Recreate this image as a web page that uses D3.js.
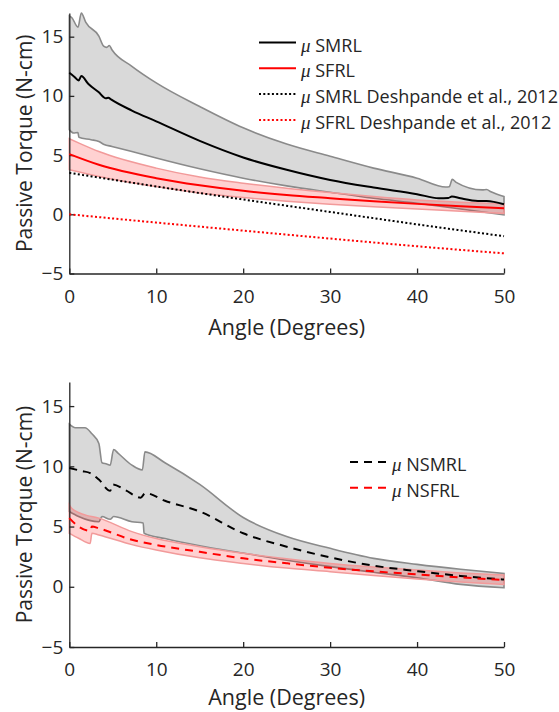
<!DOCTYPE html>
<html lang="en">
  <head>
    <meta charset="utf-8">
    <title>Passive torque</title>
    <script src="https://cdn.jsdelivr.net/npm/d3@7/dist/d3.min.js"></script>
    <style>
      body { margin: 0; background: #fff; }
      text { font-family: "Open Sans", sans-serif; fill: #262626; }
      .axis path, .axis line { stroke: #262626; stroke-width: 1.3; }
      .axis text { font-size: 19px; font-family: "Open Sans", sans-serif; fill: #262626; }
    </style>
  </head>
  <body>
    <div id="chart"></div>
  </body>
</html>

<script>

// [angle, torque]
const smrlMean = [[0,11.95],[0.6,11.6],[1.07,11.3],[1.38,11.67],[2.2,11.0],[3.4,10.3],[4.2,9.8],[4.5,9.85],[4.8,9.7],[7.2,8.76],[10,7.85],[15,6.2],[20,4.8],[25,3.76],[30,2.9],[35,2.26],[40,1.7],[42.5,1.36],[43.6,1.38],[44,1.5],[45,1.35],[47,1.13],[48,1.12],[50,0.85]];
const smrlUpper = [[0,16.75],[0.3,16.6],[1.0,15.8],[1.38,17.0],[1.9,16.2],[3.4,15.05],[3.95,14.2],[4.3,14.1],[4.6,14.25],[4.9,13.9],[7.2,12.5],[10,11.1],[15,9.1],[20,7.3],[25,5.93],[30,4.9],[35,3.9],[40,3.05],[43.3,2.3],[43.7,2.32],[44.05,2.95],[44.5,2.7],[47.5,2.06],[48,2.1],[48.5,1.9],[50,1.5]];
const smrlLower = [[0,7.15],[0.5,6.86],[1.0,6.9],[1.1,6.5],[2.5,6.3],[3.4,6.15],[4.0,5.9],[4.9,5.73],[7.2,5.3],[10,4.75],[15,3.84],[20,3.05],[25,2.4],[30,1.86],[35,1.35],[40,0.93],[45,0.45],[50,-0.05]];

const sfrlMean = [[0,5.08],[3.4,4.18],[10,3.05],[15,2.45],[20,1.98],[25,1.63],[30,1.36],[35,1.1],[40,0.88],[45,0.68],[50,0.5]];
const sfrlUpper = [[0,6.38],[1,6.05],[3.4,5.3],[10,3.9],[15,3.15],[20,2.63],[25,2.2],[30,1.84],[35,1.5],[40,1.21],[45,1.02],[50,0.88]];
const sfrlLower = [[0,3.76],[3.4,3.2],[10,2.34],[15,1.8],[20,1.41],[25,1.1],[30,0.85],[35,0.63],[40,0.45],[45,0.25],[50,0.08]];

const smrlDeshpande = [[0,3.5],[10,2.35],[20,1.25],[30,0.2],[40,-0.85],[50,-1.85]];
const sfrlDeshpande = [[0,0],[10,-0.7],[20,-1.38],[30,-2.05],[40,-2.7],[50,-3.3]];

const nsmrlMean = [[0,9.86],[1.5,9.6],[2.4,9.44],[3.4,8.9],[4.7,7.97],[5.0,8.5],[6.5,8.0],[8.2,7.4],[8.75,7.78],[11,7.14],[15,6.25],[20,4.44],[25,3.33],[30,2.44],[35,1.75],[40,1.3],[45,0.9],[50,0.6]];
const nsmrlUpper = [[0,13.5],[0.7,13.2],[1.8,13.2],[2.6,12.7],[3.4,11.9],[3.76,10.3],[4.3,10.2],[4.7,10.1],[5.1,11.4],[5.6,11.1],[7.2,10.1],[8.4,9.7],[8.7,11.2],[11,10.3],[15,8.5],[20,5.75],[25,4.17],[30,3.19],[35,2.36],[40,1.86],[45,1.45],[50,1.1]];
const nsmrlLower = [[0,6.25],[1.07,5.83],[3.4,5.4],[3.76,5.83],[4.7,5.6],[5.1,5.83],[7.2,5.4],[8.5,5.3],[8.6,4.44],[11,4.0],[15,3.4],[20,2.8],[25,2.2],[30,1.67],[35,1.2],[40,0.75],[45,0.2],[50,-0.08]];

const nsfrlMean = [[0,5.7],[1.07,5.0],[2.4,4.64],[2.6,5.0],[3.4,4.85],[7.2,3.9],[10,3.47],[15,2.9],[20,2.36],[25,1.95],[30,1.58],[35,1.28],[40,1.03],[45,0.78],[50,0.56]];
const nsfrlUpper = [[0,6.8],[0.3,6.5],[1.8,5.97],[3.4,5.7],[7.2,4.58],[10,4.0],[15,3.33],[20,2.78],[25,2.33],[30,1.94],[35,1.64],[40,1.39],[45,1.15],[50,0.97]];
const nsfrlLower = [[0,4.44],[1.07,4.03],[2.4,3.6],[2.6,4.44],[3.4,4.3],[7.2,3.5],[10,3.05],[15,2.4],[20,1.94],[25,1.55],[30,1.25],[35,0.93],[40,0.64],[45,0.4],[50,0.19]];

const xTicks = [0, 10, 20, 30, 40, 50];
const yTicks = [-5, 0, 5, 10, 15];
const topLegend = ["SMRL", "SFRL", "SMRL Deshpande et al., 2012", "SFRL Deshpande et al., 2012"];
const bottomLegend = ["NSMRL", "NSFRL"];

const width = 559, height = 712;
const svg = d3.select("#chart").append("svg")
  .attr("width", width)
  .attr("height", height);

const x = d3.scaleLinear().domain([0, 50]).range([69.3, 504]);

function panel(top, bottom, titleY) {
  const y = d3.scaleLinear().domain([-5, 17]).range([bottom, top]);
  const g = svg.append("g");
  const line = d3.line().x(d => x(d[0])).y(d => y(d[1])).curve(d3.curveMonotoneX);
  const band = (up, lo) => line(up) + line(lo.slice().reverse()).replace(/^M/, "L") + "Z";

  g.append("g").attr("class", "axis")
    .attr("transform", `translate(0,${bottom})`)
    .call(d3.axisBottom(x).tickValues(xTicks).tickSizeInner(-5).tickSizeOuter(0).tickPadding(16));
  g.append("g").attr("class", "axis")
    .attr("transform", `translate(${x(0)},0)`)
    .call(d3.axisLeft(y).tickValues(yTicks).tickSizeInner(-5).tickSizeOuter(0).tickPadding(6));

  g.append("text")
    .attr("x", (x(0) + x(50)) / 2)
    .attr("y", titleY)
    .attr("text-anchor", "middle")
    .style("font-size", "21.5px")
    .text("Angle (Degrees)");

  g.append("text")
    .attr("transform", `translate(32,${(top + bottom) / 2}) rotate(-90)`)
    .attr("text-anchor", "middle")
    .style("font-size", "21px")
    .text("Passive Torque (N-cm)");

  return { g, y, line, band };
}

function legend(g, items, x0, y0) {
  const row = g.selectAll(".leg")
    .data(items)
    .join("g")
    .attr("transform", (d, i) => `translate(${x0},${y0 + i * 25.8})`);
  row.append("line")
    .attr("x1", 0).attr("x2", 37)
    .attr("stroke", d => d.color)
    .attr("stroke-width", d => d.width)
    .attr("stroke-dasharray", d => d.dash);
  const t = row.append("text")
    .attr("x", 42)
    .attr("y", 9)
    .style("font-size", "18px");
  t.append("tspan")
    .style("font-family", "'Liberation Serif', serif")
    .style("font-style", "italic")
    .style("font-size", "19px")
    .text("\u03bc");
  t.append("tspan").text(d => " " + d.label);
}

// top panel
const p1 = panel(13, 273.5, 335);
p1.g.insert("path", ".axis")
  .attr("d", p1.band(smrlUpper, smrlLower))
  .attr("fill", "#d9d9d9").attr("stroke", "#8a8a8a").attr("stroke-width", 1.6);
p1.g.insert("path", ".axis")
  .attr("d", p1.band(sfrlUpper, sfrlLower))
  .attr("fill", "#ff0000").attr("fill-opacity", 0.18)
  .attr("stroke", "#f29a9a").attr("stroke-width", 1.5);
p1.g.append("path").attr("d", p1.line(smrlDeshpande))
  .attr("fill", "none").attr("stroke", "#000").attr("stroke-width", 2).attr("stroke-dasharray", "2,2.3");
p1.g.append("path").attr("d", p1.line(sfrlDeshpande))
  .attr("fill", "none").attr("stroke", "#ff0000").attr("stroke-width", 2).attr("stroke-dasharray", "2,2.3");
p1.g.append("path").attr("d", p1.line(smrlMean))
  .attr("fill", "none").attr("stroke", "#000").attr("stroke-width", 2);
p1.g.append("path").attr("d", p1.line(sfrlMean))
  .attr("fill", "none").attr("stroke", "#ff0000").attr("stroke-width", 2);

legend(p1.g, [
  { label: topLegend[0], color: "#000", width: 2, dash: null },
  { label: topLegend[1], color: "#ff0000", width: 2, dash: null },
  { label: topLegend[2], color: "#000", width: 2, dash: "2,2.3" },
  { label: topLegend[3], color: "#ff0000", width: 2, dash: "2,2.3" }
], 259, 42.5);

// bottom panel
const p2 = panel(382, 647, 705);
p2.g.insert("path", ".axis")
  .attr("d", p2.band(nsmrlUpper, nsmrlLower))
  .attr("fill", "#d9d9d9").attr("stroke", "#8a8a8a").attr("stroke-width", 1.6);
p2.g.insert("path", ".axis")
  .attr("d", p2.band(nsfrlUpper, nsfrlLower))
  .attr("fill", "#ff0000").attr("fill-opacity", 0.18)
  .attr("stroke", "#f29a9a").attr("stroke-width", 1.5);
p2.g.append("path").attr("d", p2.line(nsmrlMean))
  .attr("fill", "none").attr("stroke", "#000").attr("stroke-width", 2).attr("stroke-dasharray", "8,6");
p2.g.append("path").attr("d", p2.line(nsfrlMean))
  .attr("fill", "none").attr("stroke", "#ff0000").attr("stroke-width", 2).attr("stroke-dasharray", "8,6");

legend(p2.g, [
  { label: bottomLegend[0], color: "#000", width: 2, dash: "8,6" },
  { label: bottomLegend[1], color: "#ff0000", width: 2, dash: "8,6" }
], 350, 462);

</script>
